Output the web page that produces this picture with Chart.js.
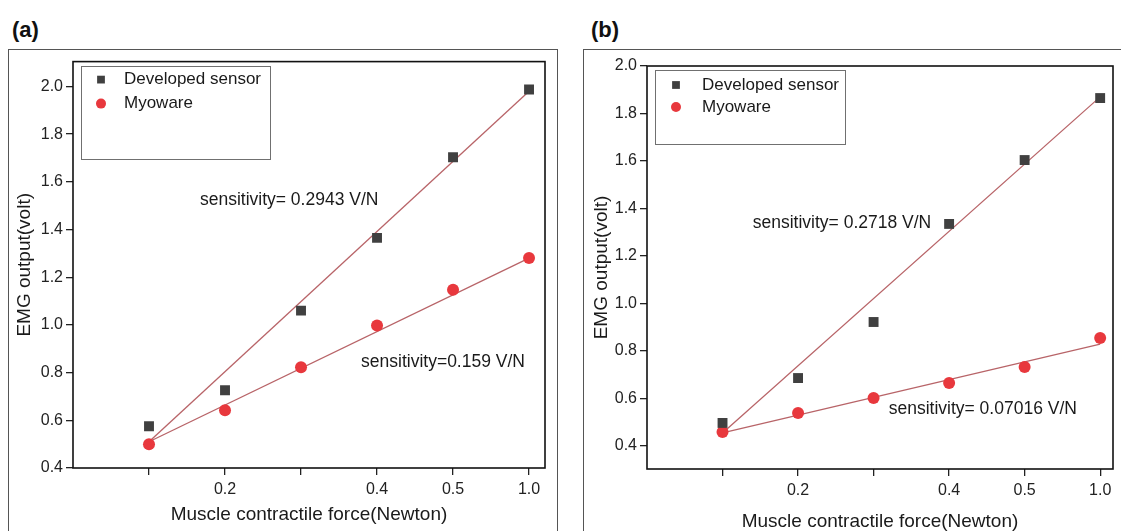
<!DOCTYPE html>
<html>
<head>
<meta charset="utf-8">
<script src="https://cdn.jsdelivr.net/npm/chart.js@4.4.1/dist/chart.umd.min.js"></script>
<style>
  html, body { margin: 0; padding: 0; background: #fff; overflow: hidden; }
  body { width: 1121px; height: 531px; position: relative; font-family: "Liberation Sans", Arial, sans-serif; }
  .frame { position: absolute; border: 1px solid #555; box-sizing: border-box; }
  .tag { position: absolute; font-weight: bold; font-size: 22px; color: #111; }
  canvas { position: absolute; }
</style>
</head>
<body>
<div class="tag" style="left:12px; top:17px;">(a)</div>
<div class="tag" style="left:591px; top:17px;">(b)</div>
<div class="frame" style="left:8px; top:49px; width:550px; height:520px;"></div>
<div class="frame" style="left:583px; top:49px; width:580px; height:520px;"></div>
<canvas id="chartA" width="549" height="482" style="left:8px; top:49px;"></canvas>
<canvas id="chartB" width="538" height="490" style="left:583px; top:49px;"></canvas>

<script>
// 力の段階（横軸は等間隔で並ぶ）
var forceLevels = [0.1, 0.2, 0.3, 0.4, 0.5, 1.0];
var xTickLabels = ['', '0.2', '', '0.4', '0.5', '1.0'];
var yTicks = [0.4, 0.6, 0.8, 1.0, 1.2, 1.4, 1.6, 1.8, 2.0];
var seriesNames = ['Developed sensor', 'Myoware'];

// (a)
var devA = [0.575, 0.726, 1.06, 1.365, 1.703, 1.987];
var myoA = [0.50, 0.642, 0.822, 0.997, 1.147, 1.281];
var fitDevA = [0.51, 1.98];
var fitMyoA = [0.51, 1.28];
var sensA = ['sensitivity= 0.2943 V/N', 'sensitivity=0.159 V/N'];

// (b)
var devB = [0.497, 0.686, 0.922, 1.335, 1.604, 1.865];
var myoB = [0.459, 0.539, 0.602, 0.665, 0.733, 0.855];
var fitDevB = [0.455, 1.87];
var fitMyoB = [0.455, 0.829];
var sensB = ['sensitivity= 0.2718 V/N', 'sensitivity= 0.07016 V/N'];

var FONT = '"Liberation Sans", Arial, sans-serif';
var DEV_COLOR = '#404040';
var MYO_COLOR = '#e8383d';
var FIT_COLOR = '#b86468';

function toPoints(values) {
  return values.map(function(v, i) { return { x: i, y: v }; });
}

function fitPoints(ends) {
  return [{ x: 0, y: ends[0] }, { x: forceLevels.length - 1, y: ends[1] }];
}

// 枠・凡例・感度の注記
var panelDecor = {
  id: 'panelDecor',
  afterDatasetsDraw: function(chart, args, opts) {
    var ctx = chart.ctx;
    var area = chart.chartArea;
    var xs = chart.scales.x;
    var ys = chart.scales.y;
    ctx.save();

    ctx.font = '17.5px ' + FONT;
    ctx.fillStyle = '#1a1a1a';
    ctx.textBaseline = 'middle';
    ctx.textAlign = 'left';
    opts.notes.forEach(function(n) {
      ctx.fillText(n.text, xs.getPixelForValue(n.x), ys.getPixelForValue(n.y));
    });

    var lg = opts.legend;
    ctx.strokeStyle = '#707070';
    ctx.lineWidth = 1;
    ctx.strokeRect(Math.round(area.left + lg.x) + 0.5, Math.round(area.top + lg.y) + 0.5, lg.w, lg.h);
    ctx.font = '17px ' + FONT;
    for (var i = 0; i < 2; i++) {
      var ds = chart.data.datasets[i];
      var my = area.top + lg.rows[i];
      ctx.fillStyle = ds.backgroundColor;
      Chart.helpers.drawPoint(ctx, { pointStyle: ds.pointStyle, radius: i === 0 ? 5.5 : 5, rotation: 0, borderWidth: 0 }, area.left + lg.mx, my);
      ctx.fillStyle = '#1a1a1a';
      ctx.fillText(ds.label, area.left + lg.tx, my);
    }

    ctx.strokeStyle = '#111';
    ctx.lineWidth = 1.6;
    ctx.strokeRect(area.left, area.top, area.right - area.left, area.bottom - area.top);
    ctx.restore();
  }
};

function makePanel(id, dev, myo, fitDev, fitMyo, p) {
  var ctx = document.getElementById(id).getContext('2d');
  return new Chart(ctx, {
    type: 'scatter',
    data: {
      datasets: [
        {
          label: seriesNames[0],
          data: toPoints(dev),
          pointStyle: 'rect',
          pointRadius: 7,
          backgroundColor: DEV_COLOR,
          borderWidth: 0
        },
        {
          label: seriesNames[1],
          data: toPoints(myo),
          pointStyle: 'circle',
          pointRadius: 6,
          backgroundColor: MYO_COLOR,
          borderWidth: 0
        },
        {
          type: 'line',
          data: fitPoints(fitDev),
          borderColor: FIT_COLOR,
          borderWidth: 1.3,
          pointRadius: 0,
          fill: false
        },
        {
          type: 'line',
          data: fitPoints(fitMyo),
          borderColor: FIT_COLOR,
          borderWidth: 1.3,
          pointRadius: 0,
          fill: false
        }
      ]
    },
    options: {
      responsive: false,
      animation: false,
      devicePixelRatio: 1,
      layout: { padding: { top: p.padTop, right: p.padRight, left: 0, bottom: 0 } },
      scales: {
        x: {
          type: 'linear',
          min: -1,
          max: p.xMax,
          afterFit: function(s) { s.height = p.xHeight; },
          afterBuildTicks: function(s) {
            s.ticks = forceLevels.map(function(v, i) { return { value: i }; });
          },
          grid: { drawOnChartArea: false, drawTicks: true, tickLength: 7, color: '#222', lineWidth: 1.3 },
          border: { display: false },
          ticks: {
            color: '#222',
            padding: 5,
            maxRotation: 0,
            autoSkip: false,
            font: { family: FONT, size: 16 },
            callback: function(value) { return xTickLabels[value]; }
          },
          title: {
            display: true,
            text: 'Muscle contractile force(Newton)',
            color: '#1a1a1a',
            font: { family: FONT, size: 19 },
            padding: { top: 0, bottom: p.xTitlePad }
          }
        },
        y: {
          type: 'linear',
          min: p.yMin,
          max: p.yMax,
          afterFit: function(s) { s.width = p.yWidth; },
          afterBuildTicks: function(s) {
            s.ticks = yTicks.map(function(v) { return { value: v }; });
          },
          grid: { drawOnChartArea: false, drawTicks: true, tickLength: 7, color: '#222', lineWidth: 1.3 },
          border: { display: false },
          ticks: {
            color: '#222',
            padding: 3,
            font: { family: FONT, size: 16 },
            callback: function(value) { return Number(value).toFixed(1); }
          },
          title: {
            display: true,
            text: 'EMG output(volt)',
            color: '#1a1a1a',
            font: { family: FONT, size: 19 },
            padding: { top: p.yTitlePad, bottom: 0 }
          }
        }
      },
      plugins: {
        legend: { display: false },
        tooltip: { enabled: false },
        panelDecor: { notes: p.notes, legend: p.legend }
      }
    },
    plugins: [panelDecor]
  });
}

makePanel('chartA', devA, myoA, fitDevA, fitMyoA, {
  padTop: 11, padRight: 12, xHeight: 63, yWidth: 65,
  xMax: 5.21, yMin: 0.4, yMax: 2.104,
  xTitlePad: 5, yTitlePad: 5,
  legend: { x: 8, y: 4, w: 189, h: 93, mx: 28, tx: 51, rows: [18, 42] },
  notes: [
    { text: sensA[0], x: 0.67, y: 1.523 },
    { text: sensA[1], x: 2.79, y: 0.843 }
  ]
});

makePanel('chartB', devB, myoB, fitDevB, fitMyoB, {
  padTop: 17, padRight: 8, xHeight: 70, yWidth: 64,
  xMax: 5.17, yMin: 0.303, yMax: 2.0,
  xTitlePad: 6, yTitlePad: 7,
  legend: { x: 8, y: 4, w: 190, h: 74, mx: 29, tx: 55, rows: [19, 41] },
  notes: [
    { text: sensB[0], x: 0.4, y: 1.339 },
    { text: sensB[1], x: 2.2, y: 0.556 }
  ]
});
</script>
</body>
</html>
